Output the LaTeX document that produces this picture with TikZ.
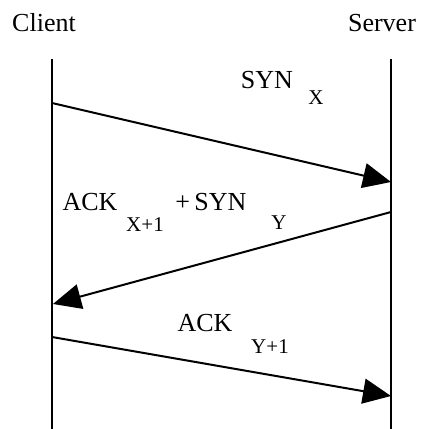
\documentclass[tikz,border=0pt]{standalone}
\usepackage{fontspec}
\setmainfont{Liberation Serif}
\usetikzlibrary{arrows.meta,calc,positioning}

\begin{document}
\begin{tikzpicture}[
  x=0.5pt, y=-0.5pt,
  >={Triangle[length=14pt,width=12.5pt]},
  lifeline/.style={line width=1pt},
  msg/.style={->, line width=1pt},
  party/.style={font=\fontsize{13}{15}\selectfont, inner sep=0pt},
  msglabel/.style={font=\fontsize{13}{15}\selectfont, inner sep=0pt},
  sublabel/.style={font=\fontsize{10.5}{12}\selectfont, inner sep=0pt}
]
\useasboundingbox (0,0) rectangle (420,429);

% --- endpoints ---
\node[party] (client) at (44,23) {Client};
\node[party] (server) at (382,23) {Server};

% --- lifelines ---
\coordinate (ctop) at (52,59);
\coordinate (cbot) at (52,429);
\coordinate (stop) at (391,59);
\coordinate (sbot) at (391,429);
\draw[lifeline] (ctop) -- (cbot);
\draw[lifeline] (stop) -- (sbot);

% --- message ends on the lifelines ---
\coordinate (m1a) at (52,103);
\coordinate (m1b) at (391,182);
\coordinate (m2a) at (391,212);
\coordinate (m2b) at (53,304);
\coordinate (m3a) at (52,337);
\coordinate (m3b) at (391,396);

% --- messages ---
\draw[msg] (m1a) -- (m1b);
\draw[msg] (m2a) -- (m2b);
\draw[msg] (m3a) -- (m3b);

% --- labels (subscripts set apart as drawn) ---
\node[msglabel] (syn) at (267,80) {SYN};
\node[sublabel] (synx) at (316,98) {X};

\node[msglabel] (ack) at (90,202) {ACK};
\node[sublabel] (ackx) at (145,225) {X+1};
\node[msglabel] (plussyn) at (211,202) {+\,SYN};
\node[sublabel] (syny) at (279,223) {Y};

\node[msglabel] (ack2) at (205,323) {ACK};
\node[sublabel] (acky) at (270,347) {Y+1};

\end{tikzpicture}
\end{document}
